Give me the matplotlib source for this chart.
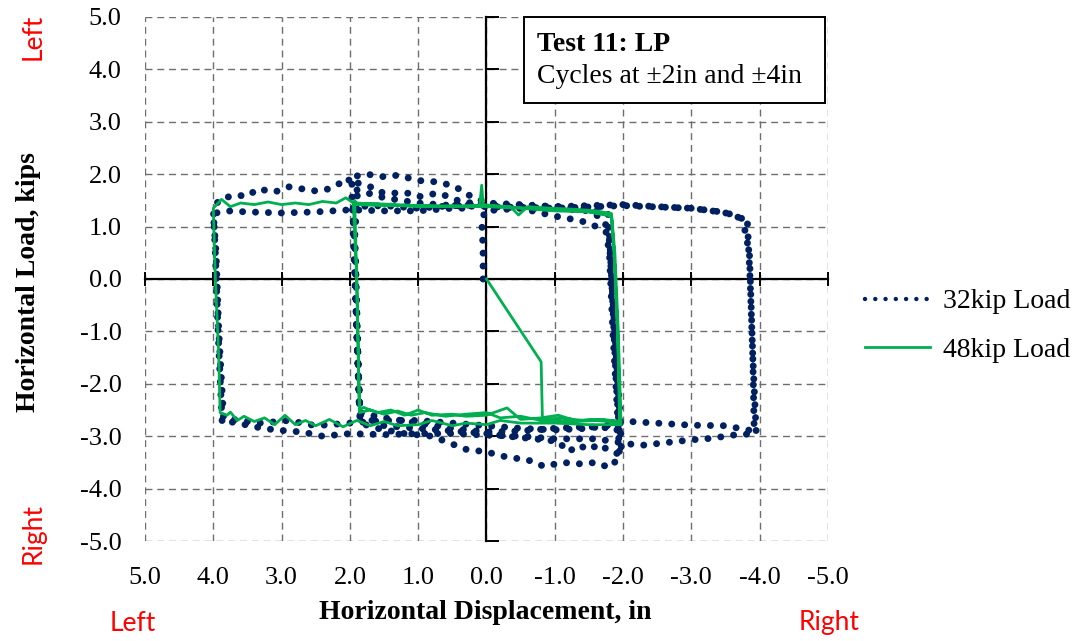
import numpy as np
import matplotlib
matplotlib.use('Agg')
import matplotlib.pyplot as plt
from matplotlib.ticker import FormatStrFormatter
from matplotlib.lines import Line2D
from matplotlib.patches import Rectangle

plt.rcParams['font.family'] = ['Liberation Serif', 'DejaVu Serif']
plt.rcParams['axes.unicode_minus'] = False

# axis ticks
x_ticks = [5.0, 4.0, 3.0, 2.0, 1.0, 0.0, -1.0, -2.0, -3.0, -4.0, -5.0]
y_ticks = [5.0, 4.0, 3.0, 2.0, 1.0, 0.0, -1.0, -2.0, -3.0, -4.0, -5.0]

# 32kip Load (displacement in, load kips)
p32_x_1 = [0.05, 0.05, 0.07, 0.02, -0.5, -1.0, -1.3, -1.5, -1.65, -1.75, -1.8, -1.85, -1.92, -1.95,
           -1.8, -1.6, -1.4, -1.1, -0.85, -0.6, -0.3, 0.0, 0.3, 0.5, 0.8, 1.2, 1.6, 1.85,
           1.88, 1.92, 1.97, 1.97, 1.75, 1.5, 1.3, 1.0, 0.7, 0.45, 0.3, 0.15, 0.0,
           -0.5, -1.0, -1.5, -1.78, -1.8, -1.88, -1.95, -1.98]
p32_y_1 = [0.0, 0.6, 1.1, 1.3, 1.35, 1.2, 1.13, 1.07, 0.97, 0.9, 0.5, -1.0, -2.6, -3.4,
           -3.6, -3.5, -3.53, -3.5, -3.58, -3.45, -3.4, -3.3, -3.25, -3.15, -3.0, -2.95, -2.85, -2.75,
           -1.5, 0.5, 1.5, 1.95, 2.0, 1.95, 1.98, 1.88, 1.85, 1.76, 1.62, 1.55, 1.45,
           1.42, 1.38, 1.32, 1.25, 0.7, -1.0, -2.5, -3.35]

p32_x_2 = [-1.82, -1.65, -1.5, -1.35, -1.2, -1.05, -0.7, -0.3, 0.0, 0.5, 1.0, 1.5, 1.85,
           1.9, 1.93, 1.88, 1.7, 1.58, 1.43, 1.16, 1.0, 0.86, 0.72, 0.5, 0.38, 0.2, 0.0,
           -0.5, -1.0, -1.5, -1.7, -1.8, -1.85, -1.9, -1.95]
p32_y_2 = [-3.3, -3.15, -3.26, -3.17, -3.3, -3.1, -3.05, -3.0, -2.95, -2.9, -2.85, -2.8, -2.6,
           -1.0, 0.8, 1.83, 1.76, 1.66, 1.64, 1.64, 1.57, 1.6, 1.64, 1.55, 1.47, 1.45, 1.4,
           1.38, 1.35, 1.3, 1.15, 0.9, -0.5, -2.0, -3.0]

p32_x_3 = [-1.9, -1.5, -1.0, -0.5, 0.0, 0.5, 1.0, 1.5, 1.86, 1.9, 1.95, 1.95, 1.5, 1.0,
           0.5, 0.0, -0.5, -1.0, -1.5, -2.0, -2.5, -3.0, -3.3, -3.55, -3.72, -3.82,
           -3.86, -3.9, -3.95]
p32_y_3 = [-2.85, -2.82, -2.85, -2.9, -2.92, -2.85, -2.75, -2.65, -2.55, -1.0, 0.8, 1.38, 1.4, 1.35,
           1.4, 1.42, 1.4, 1.38, 1.4, 1.42, 1.38, 1.35, 1.3, 1.25, 1.16, 1.1,
           0.0, -1.5, -2.95]

p32_x_4 = [-3.6, -3.3, -3.0, -2.65, -2.3, -2.1, -1.6, -1.0, -0.5, 0.0, 0.5, 1.0, 1.5, 2.0,
           2.4, 2.7, 3.1, 3.4, 3.7, 3.87, 3.93, 3.97, 4.0, 3.9, 3.67, 3.5, 3.35, 3.1,
           2.9, 2.7, 2.5, 2.3, 2.14, 2.04, 1.9, 1.5, 1.0, 0.5, 0.0, -1.0, -2.0, -3.0,
           -3.5, -3.75, -3.85, -3.9, -3.92]
p32_y_4 = [-2.98, -3.04, -3.07, -3.12, -3.17, -3.15, -3.05, -3.05, -3.0, -2.98, -2.95, -2.95, -2.97, -2.95,
           -3.0, -2.92, -2.88, -2.82, -2.73, -2.75, -1.0, 0.5, 1.35, 1.53, 1.6, 1.58, 1.72, 1.66,
           1.76, 1.72, 1.68, 1.72, 1.83, 1.93, 1.7, 1.55, 1.45, 1.4, 1.38, 1.35, 1.4, 1.35,
           1.27, 1.15, 0.5, -1.5, -2.9]

p32_x_5 = [-3.82, -3.5, -3.0, -2.5, -2.1, -1.5, -1.0, -0.5, 0.0, 0.5, 1.0, 1.5, 2.0, 2.5,
           2.9, 3.3, 3.6, 3.85, 3.92, 3.96, 4.0, 3.8, 3.5, 3.0, 2.5, 2.0, 1.5, 1.0, 0.5, 0.2]
p32_y_5 = [-2.88, -2.8, -2.79, -2.75, -2.72, -2.85, -2.88, -2.85, -2.8, -2.75, -2.7, -2.7, -2.75, -2.8,
           -2.7, -2.75, -2.7, -2.65, -1.0, 0.5, 1.25, 1.3, 1.28, 1.26, 1.28, 1.32, 1.3, 1.3, 1.35, 1.35]

# 48kip Load
p48_x = [0.0, -0.8, -0.82, -1.0, -1.3, -1.6, -1.97, -1.93, -1.88, -1.83, -1.6, -1.3, -0.95, -0.6,
         -0.47, -0.35, -0.1, 0.05, 0.07, 0.1, 0.5, 1.0, 1.5, 1.9, 1.93, 1.9, 1.86, 1.8,
         1.6, 1.4, 1.2, 1.0, 0.8, 0.5, 0.3, 0.0, -0.3, -0.5, -0.8, -1.05, -1.3, -1.6,
         -1.95, -1.92, -1.87, -1.83, -1.5, -1.0, -0.5, 0.0, 0.5, 1.0, 1.5, 1.95, 1.9, 1.86,
         1.7, 1.5, 1.3, 1.1, 0.9, 0.6, 0.3, 0.0, -0.2, -0.5, -0.8, -1.1, -1.4, -1.7, -1.96,
         -1.92, -1.87, -1.83, -1.4, -1.0, -0.5, 0.0, 0.5, 1.0, 1.5, 1.95, 2.06, 2.2, 2.4,
         2.6, 2.8, 3.0, 3.2, 3.4, 3.6, 3.75, 3.88, 4.0, 3.97, 3.92, 3.9, 3.8, 3.75, 3.65,
         3.55, 3.4, 3.25, 3.1, 2.95, 2.8, 2.65, 2.5, 2.3, 2.1, 1.9, 1.7, 1.5, 1.3, 1.0,
         0.8, 0.5, 0.3, 0.0, -0.2, -0.5, -1.0, -1.5, -1.97]
p48_y = [0.0, -1.58, -2.72, -2.7, -2.72, -2.7, -2.74, -1.0, 0.5, 1.25, 1.3, 1.33, 1.35, 1.38,
         1.22, 1.38, 1.4, 1.42, 1.79, 1.4, 1.38, 1.4, 1.4, 1.42, 1.5, 0.0, -2.5, -2.45,
         -2.55, -2.5, -2.6, -2.5, -2.6, -2.58, -2.62, -2.6, -2.46, -2.68, -2.65, -2.6, -2.7, -2.68,
         -2.72, -1.0, 0.5, 1.2, 1.28, 1.3, 1.35, 1.38, 1.4, 1.38, 1.42, 1.45, 0.0, -2.55,
         -2.5, -2.58, -2.52, -2.6, -2.55, -2.62, -2.58, -2.55, -2.65, -2.62, -2.7, -2.65, -2.7, -2.68, -2.72,
         -1.0, 0.5, 1.22, 1.3, 1.32, 1.36, 1.4, 1.38, 1.4, 1.43, 1.45, 1.55, 1.45, 1.48,
         1.42, 1.45, 1.42, 1.47, 1.42, 1.45, 1.38, 1.52, 1.35, 0.0, -1.5, -2.55, -2.6, -2.54, -2.7,
         -2.62, -2.72, -2.65, -2.78, -2.6, -2.78, -2.7, -2.8, -2.68, -2.82, -2.7, -2.8, -2.72, -2.8, -2.78,
         -2.7, -2.8, -2.75, -2.78, -2.7, -2.75, -2.75, -2.78, -2.78]

navy = '#002060'
green = '#00b050'

fig = plt.figure(figsize=(10.83, 6.41), dpi=100)
ax = fig.add_axes([0.1339, 0.156, 0.6306, 0.8175])

p32_x = np.concatenate([p32_x_1, p32_x_2, p32_x_3, p32_x_4, p32_x_5])
p32_y = np.concatenate([p32_y_1, p32_y_2, p32_y_3, p32_y_4, p32_y_5])

ax.plot(p32_x, p32_y, color=navy, lw=5.0, ls=(0, (0.01, 1.85)),
        dash_capstyle='round', zorder=3)
ax.plot(p48_x, p48_y, color=green, lw=2.0, zorder=4, solid_joinstyle='round')

ax.set_xlim(5, -5)
ax.set_ylim(-5, 5)

# grid, frame is just the outer grid lines
ax.set_xticks(x_ticks)
ax.set_yticks(y_ticks)
ax.grid(True, color='#6e6e6e', lw=1.0, ls=(0, (5, 3.5)))
for gl in ax.get_xgridlines() + ax.get_ygridlines():
    gl.set_clip_on(False)

for s in ['top', 'right']:
    ax.spines[s].set_visible(False)
ax.spines['left'].set_position(('data', 0))
ax.spines['bottom'].set_position(('data', 0))
ax.spines['left'].set_linewidth(1.6)
ax.spines['bottom'].set_linewidth(1.6)
ax.tick_params(axis='x', direction='inout', length=10, width=1.4,
               labelbottom=False)
ax.tick_params(axis='y', direction='in', length=9, width=1.4,
               labelleft=False)

# tick labels on the outer edges
sx = ax.secondary_xaxis('bottom')
sx.set_xticks(x_ticks)
sx.xaxis.set_major_formatter(FormatStrFormatter('%.1f'))
sx.tick_params(length=0, pad=19, labelsize=19)
sx.spines['bottom'].set_visible(False)

sy = ax.secondary_yaxis('left')
sy.set_yticks(y_ticks)
sy.yaxis.set_major_formatter(FormatStrFormatter('%.1f'))
sy.tick_params(length=0, pad=17, labelsize=19)
sy.spines['left'].set_visible(False)

ax.set_xlabel('Horizontal Displacement, in', fontsize=20, fontweight='bold')
ax.xaxis.set_label_coords(0.498, -0.1355)
ax.xaxis.label.set_va('center')
ax.set_ylabel('Horizontal Load, kips', fontsize=20, fontweight='bold')
ax.yaxis.set_label_coords(-0.171, 0.494)
ax.yaxis.label.set_va('center')

# title box
ax.add_patch(Rectangle((0.555, 0.836), 0.4406, 0.164, transform=ax.transAxes,
                       facecolor='white', edgecolor='black', lw=1.4,
                       zorder=6, clip_on=False))
ax.text(0.574, 0.9466, 'Test 11: LP', transform=ax.transAxes, fontsize=20,
        fontweight='bold', va='center', ha='left', zorder=7)
ax.text(0.574, 0.8855, 'Cycles at \u00b12in and \u00b14in', transform=ax.transAxes,
        fontsize=20, va='center', ha='left', zorder=7)

# direction labels
red_font = dict(color='red', fontsize=19, family=['Lato', 'DejaVu Sans'],
                transform=ax.transAxes, clip_on=False, va='center', ha='center')
ax.text(-0.164, 0.962, 'Left', rotation=90, **red_font)
ax.text(-0.164, 0.0134, 'Right', rotation=90, **red_font)
ax.text(-0.0176, -0.158, 'Left', **red_font)
ax.text(1.0015, -0.156, 'Right', **red_font)

handles = [Line2D([], [], color=navy, lw=3.2, ls=(0, (0.01, 2.3)), dash_capstyle='round'),
           Line2D([], [], color=green, lw=2.0)]
fig.legend(handles, ['32kip Load', '48kip Load'], loc='upper left',
           bbox_to_anchor=(865 / 1083, 1 - 289 / 641), frameon=False,
           fontsize=20, handlelength=2.35, handletextpad=0.45,
           labelspacing=0.82, borderpad=0, borderaxespad=0)

fig.savefig('out.png', dpi=100)
